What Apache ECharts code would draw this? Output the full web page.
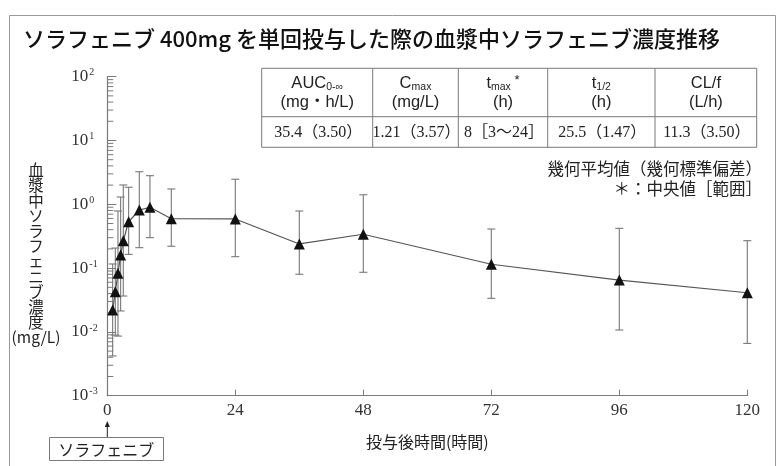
<!DOCTYPE html>
<html>
<head>
<meta charset="utf-8">
<script src="https://cdn.jsdelivr.net/npm/echarts@6/dist/echarts.min.js"></script>
<style>html,body{margin:0;padding:0;background:#fff}#c{width:783px;height:466px}</style>
</head>
<body>
<div id="c"></div>
<script>
// ---- data ----
const titleText = 'ソラフェニブ 400mg を単回投与した際の血漿中ソラフェニブ濃度推移';
const times = [1, 1.5, 2, 2.5, 3, 4, 6, 8, 12, 24, 36, 48, 72, 96, 120];
const means = [0.022, 0.0427, 0.083, 0.160, 0.269, 0.533, 0.814, 0.897, 0.594, 0.589, 0.239, 0.339, 0.115, 0.065, 0.0411];
const upper = [0.116, 0.206, 0.785, 1.30, 2.01, 1.85, 3.24, 2.81, 1.74, 2.47, 0.785, 1.41, 0.41, 0.42, 0.269];
const lower = [0.0042, 0.0089, 0.0086, 0.0213, 0.0365, 0.164, 0.209, 0.30, 0.22, 0.151, 0.080, 0.086, 0.0336, 0.0107, 0.0066];
const xTicks = [0, 24, 48, 72, 96, 120];
const yExponents = [-3, -2, -1, 0, 1, 2];
const yAxisNameChars = ['血','漿','中','ソ','ラ','フ','ェ','ニ','ブ','濃','度','(mg/L)'];
const xAxisName = '投与後時間(時間)';
const doseLabel = 'ソラフェニブ';
const tableHead = [
  '{m|AUC}{sub|0-∞}\n{m|(mg・h/L)}',
  '{m|C}{sub|max}\n{m|(mg/L)}',
  '{m|t}{sub|max}{sup| *}\n{m|(h)}',
  '{m|t}{sub|1/2}\n{m|(h)}',
  '{m|CL/f}\n{m|(L/h)}'
];
const tableData = ['35.4（3.50）', '1.21（3.57）', '8［3～24］', '25.5（1.47）', '11.3（3.50）'];
const footnotes = ['幾何平均値（幾何標準偏差）', '＊：中央値［範囲］'];

// minor tick positions on the log axis (2..9 x 10^k)
const minorTickVals = [];
for (let e = -3; e < 2; e++) for (let m = 2; m <= 9; m++) minorTickVals.push(m * Math.pow(10, e));

const serif = '"Liberation Serif", "DejaVu Serif", serif';
const sans = '"Noto Sans CJK JP", "Noto Sans", sans-serif';
const gray = '#7a7a7a';

const chart = echarts.init(document.getElementById('c'), null, {renderer: 'canvas'});

const colX = [261.7, 372.7, 458.3, 547.7, 655, 756.7];
const rowY = [68.3, 116.7, 147.3];

function buildGraphics(px0) {
  const g = [];
  g.push({type: 'rect', shape: {x: 9.5, y: 15.5, width: 766, height: 470}, style: {fill: 'none', stroke: '#999', lineWidth: 1}, z: -10});
  g.push({type: 'rect', shape: {x: colX[0], y: rowY[0], width: colX[5] - colX[0], height: rowY[2] - rowY[0]}, style: {fill: '#fff', stroke: gray, lineWidth: 1}});
  g.push({type: 'line', shape: {x1: colX[0], y1: rowY[1], x2: colX[5], y2: rowY[1]}, style: {stroke: gray, lineWidth: 1}});
  for (let i = 1; i < 5; i++) {
    g.push({type: 'line', shape: {x1: colX[i], y1: rowY[0], x2: colX[i], y2: rowY[2]}, style: {stroke: gray, lineWidth: 1}});
  }
  for (let i = 0; i < 5; i++) {
    const cx = (colX[i] + colX[i + 1]) / 2;
    g.push({type: 'text', x: cx, y: (rowY[0] + rowY[1]) / 2, style: {
      text: tableHead[i], align: 'center', verticalAlign: 'middle',
      rich: {
        m: {fontFamily: '"Liberation Sans", "Noto Sans CJK JP", sans-serif', fontSize: 16.5, lineHeight: 19, fill: '#222'},
        sub: {fontFamily: '"Liberation Sans", sans-serif', fontSize: 10.5, lineHeight: 19, fill: '#222', verticalAlign: 'bottom', padding: [6, 0, 0, 0]},
        sup: {fontFamily: '"Liberation Sans", sans-serif', fontSize: 13, lineHeight: 19, fill: '#222', verticalAlign: 'top', padding: [0, 0, 6, 0]}
      }
    }});
    g.push({type: 'text', x: cx + 1, y: (rowY[1] + rowY[2]) / 2 + 1, style: {
      text: tableData[i], align: 'center', verticalAlign: 'middle',
      fontFamily: serif + ', "Noto Sans CJK JP"', fontSize: 16, fill: '#222'
    }});
  }
  g.push({type: 'text', x: 762, y: 169, style: {text: footnotes[0], align: 'right', verticalAlign: 'middle', fontFamily: sans, fontSize: 16.5, fill: '#222'}});
  g.push({type: 'text', x: 762, y: 189, style: {text: footnotes[1], align: 'right', verticalAlign: 'middle', fontFamily: sans, fontSize: 16.5, fill: '#222'}});
  g.push({type: 'text', x: 36, y: 254, style: {text: yAxisNameChars.join('\n'), align: 'center', verticalAlign: 'middle', fontFamily: sans, fontSize: 15.5, lineHeight: 15.2, fill: '#222'}});
  if (px0 != null) {
    g.push({type: 'line', shape: {x1: px0, y1: 437, x2: px0, y2: 426}, style: {stroke: '#222', lineWidth: 1}});
    g.push({type: 'polygon', shape: {points: [[px0 - 2.5, 427], [px0 + 2.5, 427], [px0, 421]]}, style: {fill: '#222'}});
    g.push({type: 'rect', shape: {x: 49.5, y: 437.5, width: 114, height: 23}, style: {fill: '#fff', stroke: gray, lineWidth: 1}});
    g.push({type: 'text', x: 106.3, y: 449.5, style: {text: doseLabel, align: 'center', verticalAlign: 'middle', fontFamily: sans, fontSize: 16, fill: '#222'}});
  }
  return g;
}

chart.setOption({
  animation: false,
  backgroundColor: '#fff',
  title: {
    text: titleText, left: 18, top: 23,
    textStyle: {fontFamily: sans, fontSize: 22, fontWeight: 500, color: '#111'}
  },
  grid: {left: 107.3, right: 35.7, top: 76.7, bottom: 70.3, containLabel: false},
  xAxis: {
    type: 'value', min: 0, max: 120, interval: 24,
    name: xAxisName, nameLocation: 'middle', nameGap: 38,
    nameTextStyle: {fontFamily: sans, fontSize: 16, color: '#222'},
    axisLine: {show: true, lineStyle: {color: gray, width: 1.2}},
    axisTick: {show: true, inside: true, length: 6, lineStyle: {color: gray, width: 1}},
    axisLabel: {fontFamily: serif, fontSize: 17, color: '#333', margin: 6},
    splitLine: {show: false}
  },
  yAxis: {
    type: 'log', logBase: 10, min: 0.001, max: 100, interval: 1,
    axisLine: {show: true, lineStyle: {color: gray, width: 1.2}},
    axisTick: {show: true, inside: true, length: 9, lineStyle: {color: gray, width: 1}},
    axisLabel: {
      align: 'left', margin: 36,
      formatter: function (v) {
        const e = Math.round(Math.log10(v));
        return '{b|10}{s|' + e + '}';
      },
      rich: {
        b: {fontFamily: serif, fontSize: 17, color: '#333', lineHeight: 18},
        s: {fontFamily: serif, fontSize: 10, color: '#333', verticalAlign: 'top', lineHeight: 12, padding: [0, 0, 0, 1]}
      }
    },
    splitLine: {show: false}
  },
  graphic: buildGraphics(null),
  series: [
    {
      type: 'custom', name: 'minorTicks', clip: false,
      data: minorTickVals.map(v => [0, v]),
      renderItem: function (params, api) {
        const p = api.coord([0, api.value(1)]);
        return {type: 'line', shape: {x1: p[0], y1: p[1], x2: p[0] + 6, y2: p[1]}, style: {stroke: gray, lineWidth: 1}};
      },
      silent: true, z: 1
    },
    {
      type: 'custom', name: 'errorBars', clip: false,
      data: times.map((t, i) => [t, lower[i], upper[i]]),
      renderItem: function (params, api) {
        const t = api.value(0);
        const lo = api.coord([t, api.value(1)]);
        const hi = api.coord([t, api.value(2)]);
        const hw = 4;
        const st = {stroke: '#777', lineWidth: 1.1};
        return {type: 'group', children: [
          {type: 'line', shape: {x1: lo[0], y1: lo[1], x2: hi[0], y2: hi[1]}, style: st},
          {type: 'line', shape: {x1: lo[0] - hw, y1: lo[1], x2: lo[0] + hw, y2: lo[1]}, style: st},
          {type: 'line', shape: {x1: hi[0] - hw, y1: hi[1], x2: hi[0] + hw, y2: hi[1]}, style: st}
        ]};
      },
      silent: true, z: 2
    },
    {
      type: 'line', name: 'mean',
      data: times.map((t, i) => [t, means[i]]),
      symbol: 'triangle', symbolSize: 11,
      itemStyle: {color: '#111'},
      lineStyle: {color: '#555', width: 1.2},
      z: 5
    }
  ]
});

const px0 = chart.convertToPixel({xAxisIndex: 0}, 0);
chart.setOption({graphic: buildGraphics(px0)}, {replaceMerge: ['graphic']});
</script>
</body>
</html>
